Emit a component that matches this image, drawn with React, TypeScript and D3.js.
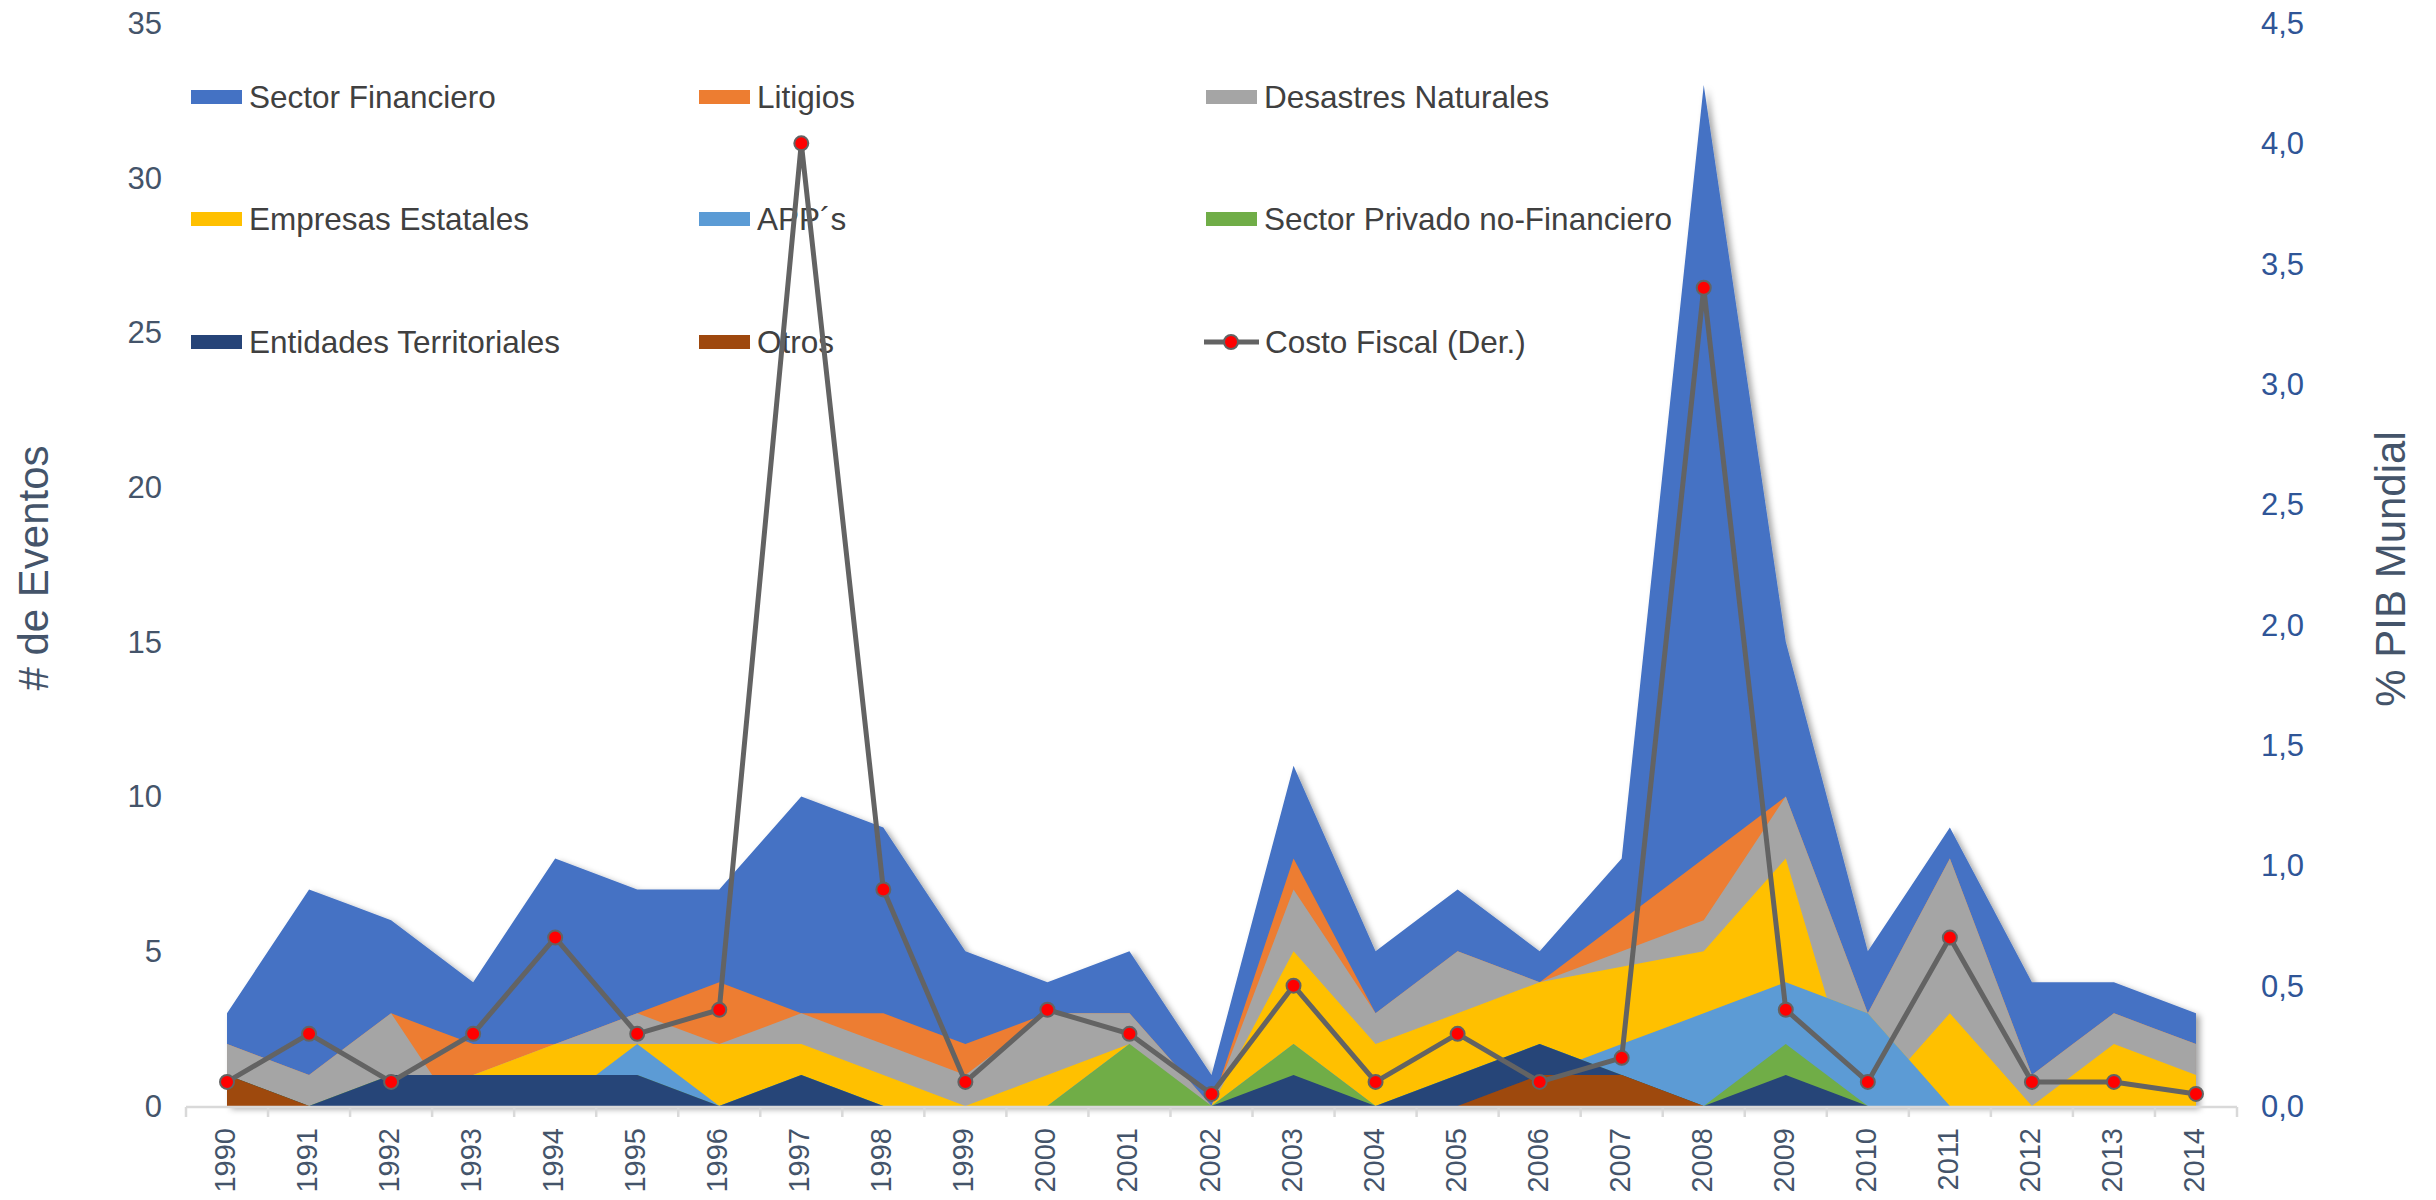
import React from 'react';
import * as d3 from 'd3';

const years = ['1990','1991','1992','1993','1994','1995','1996','1997','1998','1999','2000','2001','2002','2003','2004','2005','2006','2007','2008','2009','2010','2011','2012','2013','2014'];
// null = empty cell in the source sheet (drawn by Excel as a gap that closes at the half-way point)
const sectorFinanciero = [1,6,3,2,6,4,3,7,6,3,1,2,1,3,2,2,1,2,25,5,2,1,3,1,1];
const litigios = [0,0,0,1,0,0,2,0,1,1,0,0,0,1,0,0,0,1,2,0,0,0,0,0,0];
const desastresNaturales = [1,1,2,null,0,1,0,1,1,1,2,1,0,2,1,2,0,0.5,1,2,0,5,1,1,1];
const empresasEstatales = [0,0,0,0,1,0,2,1,1,0,1,0,0,3,2,2,2,2.5,2,4,null,3,0,2,1];
const apps = [0,0,0,0,null,1,0,0,0,0,0,0,0,0,0,0,null,1,3,2,3,0,0,0,0];
const sectorPrivado = [0,0,0,0,0,0,0,0,0,0,0,2,0,1,0,0,0,0,0,1,0,0,0,0,0];
const entidadesTerritoriales = [0,0,1,1,1,1,0,1,0,0,0,0,0,1,0,1,1,0,0,1,0,0,0,0,0];
const otros = [1,0,0,0,0,0,0,0,0,0,0,0,0,0,0,0,1,1,0,0,0,0,0,0,0];
const costoFiscal = [0.1,0.3,0.1,0.3,0.7,0.3,0.4,4.0,0.9,0.1,0.4,0.3,0.05,0.5,0.1,0.3,0.1,0.2,3.4,0.4,0.1,0.7,0.1,0.1,0.05];

const leftTicks = [0,5,10,15,20,25,30,35];
const rightTicks = [0,0.5,1,1.5,2,2.5,3,3.5,4,4.5];

// stacking order, bottom to top
const seriesDefs = [
  { key: 'otros', label: 'Otros', color: '#9E480E', values: otros },
  { key: 'ent', label: 'Entidades Territoriales', color: '#264478', values: entidadesTerritoriales },
  { key: 'priv', label: 'Sector Privado no-Financiero', color: '#70AD47', values: sectorPrivado },
  { key: 'app', label: 'APP´s', color: '#5B9BD5', values: apps },
  { key: 'emp', label: 'Empresas Estatales', color: '#FFC000', values: empresasEstatales },
  { key: 'des', label: 'Desastres Naturales', color: '#A5A5A5', values: desastresNaturales },
  { key: 'lit', label: 'Litigios', color: '#ED7D31', values: litigios },
  { key: 'fin', label: 'Sector Financiero', color: '#4472C4', values: sectorFinanciero },
];

// legend grid (row-major), as in the reference
const legendOrder = [
  ['fin', 'lit', 'des'],
  ['emp', 'app', 'priv'],
  ['ent', 'otros', 'costo'],
];

const W = 2436, H = 1200;
const X0 = 186, X1 = 2237, Y0 = 1106, Y1 = 23;
const FONT = '"Liberation Sans", Arial, Helvetica, sans-serif';
const LINE_COLOR = '#636363';

export default function App() {
  const n = years.length;
  const x = d3.scaleBand<string>().domain(years).range([X0, X1]).paddingInner(0).paddingOuter(0);
  const cx = (i: number) => (x(years[i]) as number) + x.bandwidth() / 2;
  const xi = d3.scaleLinear().domain([0, n - 1]).range([cx(0), cx(n - 1)]);
  const yL = d3.scaleLinear().domain([0, 35]).range([Y0, Y1]);
  const yR = d3.scaleLinear().domain([0, 4.5]).range([Y0, Y1]);

  // dense grid: every year and every half-way point
  const ts = d3.range(0, n - 0.5, 0.5);
  const valAt = (vals: (number | null)[], t: number) => {
    if (t % 1 === 0) return vals[t] ?? 0;
    const a = Math.floor(t), b = Math.ceil(t);
    return ((vals[a] ?? 0) + (vals[b] ?? 0)) / 2;
  };
  const table = ts.map(t => {
    const row: any = { t };
    seriesDefs.forEach(s => { row[s.key] = valAt(s.values, t); });
    return row;
  });
  const stacked = d3.stack<any>().keys(seriesDefs.map(s => s.key))(table);
  // top outline of each series; next to an empty cell the outline closes onto the series below
  const tops = stacked.map((layer, k) =>
    layer.map((d: any, j: number) => {
      const t = table[j].t;
      if (t % 1 !== 0) {
        const vals = seriesDefs[k].values;
        if (vals[Math.floor(t)] == null || vals[Math.ceil(t)] == null) return { t, v: d[0] };
      }
      return { t, v: d[1] };
    })
  );
  const area = d3.area<any>()
    .x((d: any) => xi(d.t))
    .y0(yL(0))
    .y1((d: any) => yL(d.v));

  const line = d3.line<number>().x((_, i) => cx(i)).y(d => yR(d));

  const colX = [191, 699, 1206];
  const rowY = [97, 219, 342];
  const byKey: any = {};
  seriesDefs.forEach(s => (byKey[s.key] = s));

  const edges = d3.range(n + 1).map(i => X0 + i * x.bandwidth());
  const paintOrder = d3.range(seriesDefs.length).reverse();

  return (
    <svg width={W} height={H} style={{ position: 'absolute', left: 0, top: 0, background: '#fff' }} fontFamily={FONT}>
      <defs>
        <filter id="shadow" x="-5%" y="-5%" width="115%" height="115%">
          <feDropShadow dx="4" dy="3" stdDeviation="3" floodColor="#000" floodOpacity="0.35" />
        </filter>
      </defs>
      <rect x={0} y={0} width={W} height={H} fill="#fff" />

      {/* legend */}
      {legendOrder.map((row, r) =>
        row.map((k, c) => {
          const lx = colX[c];
          const ly = rowY[r];
          if (k === 'costo') {
            return (
              <g key={k}>
                <line x1={lx - 2} x2={lx + 53} y1={ly} y2={ly} stroke={LINE_COLOR} strokeWidth={5} />
                <circle cx={lx + 25} cy={ly} r={7} fill="#FF0000" stroke={LINE_COLOR} strokeWidth={2} />
                <text x={lx + 59} y={ly} dy="0.35em" fontSize={31.5} fill="#404040">Costo Fiscal (Der.)</text>
              </g>
            );
          }
          const s = byKey[k];
          return (
            <g key={k}>
              <rect x={lx} y={ly - 7} width={51} height={14} fill={s.color} />
              <text x={lx + 58} y={ly} dy="0.35em" fontSize={31.5} fill="#404040">{s.label}</text>
            </g>
          );
        })
      )}

      {/* stacked areas: painted from the top series down, each filled to the axis */}
      <g filter="url(#shadow)">
        {paintOrder.map(k => (
          <path key={seriesDefs[k].key} d={area(tops[k]) as string} fill={seriesDefs[k].color} />
        ))}
      </g>

      {/* x axis */}
      <line x1={X0} x2={X1} y1={Y0 + 1} y2={Y0 + 1} stroke="#D9D9D9" strokeWidth={2.5} />
      {edges.map((ex, i) => (
        <line key={i} x1={ex} x2={ex} y1={Y0 + 1} y2={Y0 + 11} stroke="#D9D9D9" strokeWidth={2.5} />
      ))}
      {years.map((yr, i) => (
        <text key={yr} transform={`translate(${cx(i) + 8},${Y0 + 22}) rotate(-90)`} textAnchor="end" fontSize={29} fill="#44546A">{yr}</text>
      ))}

      {/* left axis labels */}
      {leftTicks.map(t => (
        <text key={t} x={162} y={yL(t)} dy="0.35em" textAnchor="end" fontSize={31} fill="#44546A">{t}</text>
      ))}
      {/* right axis labels */}
      {rightTicks.map(t => (
        <text key={t} x={2261} y={yR(t)} dy="0.35em" textAnchor="start" fontSize={31} fill="#2F5597">{t.toFixed(1).replace('.', ',')}</text>
      ))}

      {/* axis titles */}
      <text transform={`translate(48,568) rotate(-90)`} textAnchor="middle" fontSize={42} fill="#44546A"># de Eventos</text>
      <text transform={`translate(2405,569) rotate(-90)`} textAnchor="middle" fontSize={42} fill="#44546A">% PIB Mundial</text>

      {/* line series */}
      <path d={line(costoFiscal) as string} fill="none" stroke={LINE_COLOR} strokeWidth={5} strokeLinejoin="round" />
      {costoFiscal.map((v, i) => (
        <circle key={i} cx={cx(i)} cy={yR(v)} r={7} fill="#FF0000" stroke={LINE_COLOR} strokeWidth={2} />
      ))}
    </svg>
  );
}
